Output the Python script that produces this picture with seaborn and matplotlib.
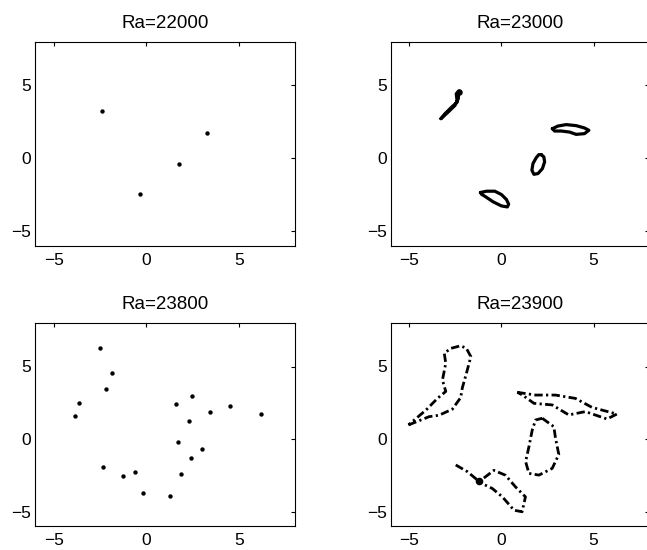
import matplotlib
matplotlib.use("Agg")
import matplotlib.pyplot as plt
import seaborn as sns
import pandas as pd

# ---------------- data ----------------
titles = ["Ra=22000", "Ra=23000", "Ra=23800", "Ra=23900"]
tick_values = [-5, 0, 5]

# Ra=22000 : fixed points
ra22000_x = [-2.38, 3.28, 1.76, -0.34]
ra22000_y = [3.24, 1.71, -0.41, -2.47]

# Ra=23000 : four closed loops
ra23000_a_x = [-3.28, -2.89, -2.52, -2.34, -2.31, -2.45, -2.40, -2.70, -3.06, -3.28]
ra23000_a_y = [2.72, 3.17, 3.63, 4.09, 4.61, 4.43, 3.86, 3.51, 3.06, 2.72]
ra23000_b_x = [2.76, 3.06, 3.51, 4.05, 4.50, 4.74, 4.50, 4.05, 3.69, 3.24, 2.88, 2.76]
ra23000_b_y = [2.03, 2.21, 2.31, 2.24, 2.08, 1.92, 1.69, 1.64, 1.80, 1.87, 1.87, 2.03]
ra23000_c_x = [2.16, 2.30, 2.34, 2.22, 1.98, 1.76, 1.65, 1.71, 1.89, 2.03, 2.16]
ra23000_c_y = [0.25, 0.09, -0.25, -0.71, -1.05, -1.10, -0.82, -0.36, 0.05, 0.25, 0.25]
ra23000_d_x = [-1.14, -0.81, -0.36, 0.00, 0.27, 0.39, 0.32, 0.00, -0.45, -0.85, -1.08, -1.14]
ra23000_d_y = [-2.35, -2.26, -2.26, -2.49, -2.83, -3.15, -3.34, -3.27, -2.99, -2.65, -2.47, -2.35]

# Ra=23800 : points of a periodic orbit
ra23800_x = [-2.49, -1.88, -2.20, -3.64, -3.83, 1.61, 2.47, 3.44, 4.48, 6.16,
             2.29, 1.70, 2.97, 2.42, 1.88, -2.35, -1.25, -0.63, -0.16, 1.27]
ra23800_y = [6.26, 4.53, 3.45, 2.48, 1.59, 2.41, 2.99, 1.89, 2.30, 1.70,
             1.26, -0.21, -0.67, -1.29, -2.41, -1.91, -2.55, -2.28, -3.70, -3.91]

# Ra=23900 : broken (chaotic) loops
ra23900_a_x = [-5.04, -3.92, -3.38, -2.66, -2.21, -2.12, -1.90, -1.66, -1.90, -2.21,
               -2.75, -3.10, -3.02, -3.20, -3.02, -3.47, -4.09, -5.04]
ra23900_a_y = [0.97, 1.54, 1.64, 2.06, 2.86, 3.54, 4.53, 5.68, 6.25, 6.43,
               6.25, 5.91, 5.22, 4.07, 3.28, 2.80, 2.00, 0.97]
ra23900_b_x = [0.86, 1.85, 2.93, 4.01, 4.91, 6.26, 5.72, 4.55, 3.65, 2.75, 1.76, 1.13, 0.86]
ra23900_b_y = [3.22, 3.03, 3.03, 2.80, 2.18, 1.72, 1.38, 1.89, 1.66, 2.35, 2.46, 3.04, 3.22]
ra23900_c_x = [2.21, 2.84, 2.93, 3.11, 2.75, 2.03, 1.49, 1.31, 1.49, 1.67, 1.85, 2.21]
ra23900_c_y = [1.43, 0.85, 0.06, -1.07, -2.03, -2.49, -2.37, -1.56, -0.53, 0.62, 1.31, 1.43]
ra23900_d_x = [-2.48, -1.85, -1.22, -0.86, -0.41, 0.22, 0.76, 1.30, 1.12, 0.68, 0.05, -0.50, -1.04, -1.22]
ra23900_d_y = [-1.79, -2.25, -2.92, -2.60, -2.16, -2.50, -3.30, -3.99, -5.02, -4.91, -3.99, -3.41, -3.08, -2.92]
ra23900_blob_x = [-1.20]
ra23900_blob_y = [-2.92]

# ---------------- figure ----------------
sns.set_theme(style="white")
plt.rcParams["font.family"] = ["Liberation Sans", "DejaVu Sans"]

fig = plt.figure(figsize=(6.47, 5.5), dpi=100)
positions = [
    [35 / 647, (550 - 245.7) / 550, 260 / 647, 204 / 550],
    [390.8 / 647, (550 - 245.7) / 550, 258.2 / 647, 204 / 550],
    [35 / 647, (550 - 526) / 550, 260 / 647, 203 / 550],
    [390.8 / 647, (550 - 526) / 550, 258.2 / 647, 203 / 550],
]
axes = [fig.add_axes(p) for p in positions]


def style(ax, title):
    ax.set_xlim(-6, 8)
    ax.set_ylim(-6, 8)
    ax.set_xticks(tick_values)
    ax.set_yticks(tick_values)
    ax.set_xlabel("")
    ax.set_ylabel("")
    ax.set_title(title, fontsize=13.5, pad=10, color="black")
    ax.tick_params(direction="in", length=3, width=0.8, top=True, right=True,
                   labelsize=12.5, colors="black", pad=5)
    ax.tick_params(axis="y", pad=3)
    for s in ax.spines.values():
        s.set_visible(True)
        s.set_color("black")
        s.set_linewidth(0.8)
    ax.set_facecolor("white")
    if ax.get_legend() is not None:
        ax.get_legend().remove()


# Ra=22000
sns.scatterplot(x=ra22000_x, y=ra22000_y, ax=axes[0], color="black", s=10,
                linewidth=0, marker="o")

# Ra=23000
for lx, ly in [(ra23000_a_x, ra23000_a_y), (ra23000_b_x, ra23000_b_y),
               (ra23000_c_x, ra23000_c_y), (ra23000_d_x, ra23000_d_y)]:
    df = pd.DataFrame({"x": lx, "y": ly})
    sns.lineplot(data=df, x="x", y="y", sort=False, estimator=None, ax=axes[1],
                 color="black", linewidth=2.3)
sns.scatterplot(x=[-2.31], y=[4.55], ax=axes[1], color="black", s=22, linewidth=0)

# Ra=23800
sns.scatterplot(x=ra23800_x, y=ra23800_y, ax=axes[2], color="black", s=10,
                linewidth=0, marker="o")

# Ra=23900
for lx, ly in [(ra23900_a_x, ra23900_a_y), (ra23900_b_x, ra23900_b_y),
               (ra23900_c_x, ra23900_c_y), (ra23900_d_x, ra23900_d_y)]:
    df = pd.DataFrame({"x": lx, "y": ly})
    sns.lineplot(data=df, x="x", y="y", sort=False, estimator=None, ax=axes[3],
                 color="black", linewidth=2.0, linestyle=(0, (3, 1.2, 0.8, 1.2)))
sns.scatterplot(x=ra23900_blob_x, y=ra23900_blob_y, ax=axes[3], color="black",
                s=30, linewidth=0)

for ax, t in zip(axes, titles):
    style(ax, t)

fig.savefig("out.png", dpi=100, facecolor="white")
